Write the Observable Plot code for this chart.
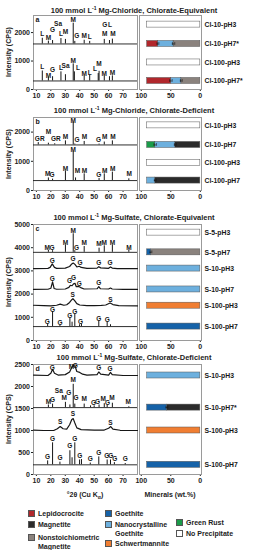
<!DOCTYPE html>
<html><head><meta charset="utf-8">
<script src="https://cdn.jsdelivr.net/npm/d3@7"></script>
<script src="https://cdn.jsdelivr.net/npm/@observablehq/plot@0.6"></script>
<style>
body{margin:0;background:#fff;}
#wrap{position:relative;width:268px;height:550px;overflow:hidden;font-family:"Liberation Sans",Arial,sans-serif;color:#222;}
.title{position:absolute;left:0;width:268px;text-align:center;font-size:7.5px;font-weight:bold;white-space:nowrap;line-height:9px;}
.title sup{font-size:5px;vertical-align:3px;line-height:0;}
.axt{position:absolute;font-size:7px;font-weight:bold;white-space:nowrap;line-height:9px;transform:translateX(-50%);}
.axt sub{font-size:5px;vertical-align:-2px;line-height:0;}
.ylab{position:absolute;font-size:7px;font-weight:bold;white-space:nowrap;line-height:9px;transform:translate(-50%,-50%) rotate(-90deg);}
.sw{position:absolute;width:7px;height:7px;border:0.6px solid #555;box-sizing:border-box;}
.lt{position:absolute;font-size:7px;font-weight:bold;line-height:9px;white-space:nowrap;}
</style></head>
<body><div id="wrap"></div>
<script>
// ---------- shared ----------
const xTicks = [10, 20, 30, 40, 50, 60, 70];
const barTicks = [100, 50, 0];
const yTitle = "Intensity (CPS)";
const minerals = ["Lepidocrocite", "Magnetite", "Nonstoichiometric Magnetite", "Goethite", "Nanocrystalline Goethite", "Schwertmannite", "Green Rust", "No Precipitate"];
const mineralColors = ["#b1272c", "#2b2b2b", "#8a827d", "#1562a8", "#6db0de", "#f07e32", "#1a9b49", "#ffffff"];
const titles = [
  "100 mmol L<sup>-1</sup> Mg-Chloride, Chlorate-Equivalent",
  "100 mmol L<sup>-1</sup> Mg-Chloride, Chlorate-Deficient",
  "100 mmol L<sup>-1</sup> Mg-Sulfate, Chlorate-Equivalent",
  "100 mmol L<sup>-1</sup> Mg-Sulfate, Chlorate-Deficient"
];

// ---------- panel a ----------
const aRows = ["Cl-10-pH3", "Cl-10-pH7*", "Cl-100-pH3", "Cl-100-pH7*"];
const aRowY = [2280, 1600, 950, 300];
const aPeaks = [
  ["Cl-10-pH7*", 14.1, 1800], ["Cl-10-pH7*", 18.3, 1700], ["Cl-10-pH7*", 21.2, 1720], ["Cl-10-pH7*", 27.0, 1790],
  ["Cl-10-pH7*", 30.1, 1760], ["Cl-10-pH7*", 35.5, 2330], ["Cl-10-pH7*", 36.6, 1690], ["Cl-10-pH7*", 43.1, 1730],
  ["Cl-10-pH7*", 46.9, 1690], ["Cl-10-pH7*", 57.0, 1760], ["Cl-10-pH7*", 60.6, 1720], ["Cl-10-pH7*", 62.6, 1770],
  ["Cl-100-pH7*", 14.1, 650], ["Cl-100-pH7*", 18.3, 420], ["Cl-100-pH7*", 21.2, 450], ["Cl-100-pH7*", 27.0, 620],
  ["Cl-100-pH7*", 30.1, 520], ["Cl-100-pH7*", 35.5, 900], ["Cl-100-pH7*", 36.3, 620], ["Cl-100-pH7*", 43.1, 470],
  ["Cl-100-pH7*", 46.9, 500], ["Cl-100-pH7*", 52.8, 560], ["Cl-100-pH7*", 53.4, 640], ["Cl-100-pH7*", 57.0, 470],
  ["Cl-100-pH7*", 60.6, 450], ["Cl-100-pH7*", 62.6, 480]
];
const aLines = [];
const aLabels = [
  [14.1, 1950, "L"], [18.3, 1830, "M"], [21.2, 2100, "G"], [25.0, 2290, "Sa"], [27.0, 1950, "L"], [30.1, 2010, "M"],
  [35.5, 2440, "M"], [38.0, 1870, "G"], [43.1, 1900, "M"], [47.0, 1850, "L"], [57.3, 2260, "G"], [61.0, 2260, "L"],
  [57.3, 1970, "M"], [63.0, 1970, "M"],
  [14.1, 790, "L"], [18.3, 470, "M"], [21.2, 680, "G"], [27.0, 760, "L"], [30.2, 840, "Sa"], [35.5, 1010, "M"],
  [38.8, 760, "L"], [43.1, 560, "M"], [46.9, 580, "L"], [50.5, 730, "L"], [53.4, 910, "M"], [57.0, 560, "M"], [62.6, 580, "M"]
];
const aBars = [
  ["Cl-10-pH3", "No Precipitate", 0, 90],
  ["Cl-10-pH7*", "Nonstoichiometric Magnetite", 0, 45.3],
  ["Cl-10-pH7*", "Nanocrystalline Goethite", 45.3, 71.7],
  ["Cl-10-pH7*", "Lepidocrocite", 71.7, 90],
  ["Cl-100-pH3", "No Precipitate", 0, 90],
  ["Cl-100-pH7*", "Nonstoichiometric Magnetite", 0, 32.2],
  ["Cl-100-pH7*", "Nanocrystalline Goethite", 32.2, 49.7],
  ["Cl-100-pH7*", "Lepidocrocite", 49.7, 90]
];
const aErr = [["Cl-10-pH7*", 45.3, 2], ["Cl-10-pH7*", 71.7, 1.5], ["Cl-100-pH7*", 32.2, 1.5], ["Cl-100-pH7*", 49.7, 2]];

// ---------- panel b ----------
const bRows = ["Cl-10-pH3", "Cl-10-pH7", "Cl-100-pH3", "Cl-100-pH7"];
const bRowY = [2230, 1560, 950, 340];
const bPeaks = [
  ["Cl-10-pH7", 11.3, 1640], ["Cl-10-pH7", 18.3, 1620], ["Cl-10-pH7", 22.7, 1600], ["Cl-10-pH7", 30.1, 1700],
  ["Cl-10-pH7", 35.5, 2330], ["Cl-10-pH7", 36.6, 1590], ["Cl-10-pH7", 43.1, 1680], ["Cl-10-pH7", 53.4, 1590],
  ["Cl-10-pH7", 57.0, 1660], ["Cl-10-pH7", 62.6, 1700],
  ["Cl-100-pH7", 18.3, 430], ["Cl-100-pH7", 21.2, 390], ["Cl-100-pH7", 30.1, 650], ["Cl-100-pH7", 35.5, 1330],
  ["Cl-100-pH7", 37.1, 430], ["Cl-100-pH7", 43.1, 570], ["Cl-100-pH7", 53.4, 410], ["Cl-100-pH7", 57.0, 570],
  ["Cl-100-pH7", 62.6, 630], ["Cl-100-pH7", 74.0, 400]
];
const bLines = [];
const bLabels = [
  [12.3, 1780, "GR"], [18.3, 1990, "M"], [23.5, 1760, "GR"], [30.1, 1850, "M"], [35.5, 2380, "M"], [38.2, 1740, "G"],
  [43.3, 1830, "M"], [53.0, 1740, "G"], [57.3, 1830, "M"], [63.0, 1850, "M"],
  [17.8, 580, "M"], [20.8, 520, "G"], [30.1, 750, "M"], [35.5, 1400, "M"], [38.5, 660, "M"], [43.3, 660, "M"],
  [53.2, 550, "G"], [57.3, 660, "M"], [62.8, 740, "M"], [74.3, 580, "M"]
];
const bBars = [
  ["Cl-10-pH3", "No Precipitate", 0, 90],
  ["Cl-10-pH7", "Magnetite", 0, 42.4],
  ["Cl-10-pH7", "Nanocrystalline Goethite", 42.4, 76.3],
  ["Cl-10-pH7", "Green Rust", 76.3, 90],
  ["Cl-100-pH3", "No Precipitate", 0, 90],
  ["Cl-100-pH7", "Magnetite", 0, 76.3],
  ["Cl-100-pH7", "Nanocrystalline Goethite", 76.3, 90]
];
const bErr = [["Cl-10-pH7", 42.4, 1.5], ["Cl-10-pH7", 76.3, 2], ["Cl-100-pH7", 76.3, 1.5]];

// ---------- panel c ----------
const cRows = ["S-5-pH3", "S-5-pH7", "S-10-pH3", "S-10-pH7", "S-100-pH3", "S-100-pH7"];
const cRowY = [4650, 3800, 3100, 2200, 1500, 600];
const cPeaks = [
  ["S-5-pH7", 18.3, 3880], ["S-5-pH7", 21.2, 3870], ["S-5-pH7", 30.1, 4100], ["S-5-pH7", 35.5, 4600],
  ["S-5-pH7", 36.6, 3870], ["S-5-pH7", 43.1, 4050], ["S-5-pH7", 53.4, 3980], ["S-5-pH7", 57.0, 4080],
  ["S-5-pH7", 62.6, 4100], ["S-5-pH7", 74.0, 3880],
  ["S-100-pH7", 17.8, 700], ["S-100-pH7", 21.2, 1250], ["S-100-pH7", 26.3, 650], ["S-100-pH7", 33.2, 960],
  ["S-100-pH7", 34.7, 790], ["S-100-pH7", 36.6, 1130], ["S-100-pH7", 39.9, 680], ["S-100-pH7", 41.2, 700],
  ["S-100-pH7", 53.2, 830], ["S-100-pH7", 59.0, 790], ["S-100-pH7", 61.3, 680]
];
const cLines = [
  ["S-10-pH3", 8, 3100], ["S-10-pH3", 18, 3110], ["S-10-pH3", 19.5, 3150], ["S-10-pH3", 21, 3300], ["S-10-pH3", 22.5, 3150],
  ["S-10-pH3", 24, 3110], ["S-10-pH3", 30, 3120], ["S-10-pH3", 33, 3190], ["S-10-pH3", 34.5, 3300], ["S-10-pH3", 35.5, 3340],
  ["S-10-pH3", 36.7, 3280], ["S-10-pH3", 38, 3170], ["S-10-pH3", 39.7, 3200], ["S-10-pH3", 41, 3150], ["S-10-pH3", 45, 3110],
  ["S-10-pH3", 52, 3120], ["S-10-pH3", 53.2, 3180], ["S-10-pH3", 54.5, 3130], ["S-10-pH3", 60, 3110], ["S-10-pH3", 61.3, 3170],
  ["S-10-pH3", 62.5, 3120], ["S-10-pH3", 66, 3100], ["S-10-pH3", 80, 3100],
  ["S-10-pH7", 8, 2200], ["S-10-pH7", 18, 2210], ["S-10-pH7", 20, 2250], ["S-10-pH7", 21.2, 2530], ["S-10-pH7", 22.3, 2240],
  ["S-10-pH7", 24, 2210], ["S-10-pH7", 30, 2220], ["S-10-pH7", 32.5, 2290], ["S-10-pH7", 33.5, 2380], ["S-10-pH7", 34.7, 2360],
  ["S-10-pH7", 35.7, 2440], ["S-10-pH7", 36.8, 2460], ["S-10-pH7", 37.6, 2320], ["S-10-pH7", 39.3, 2330], ["S-10-pH7", 40.7, 2280],
  ["S-10-pH7", 43, 2220], ["S-10-pH7", 52, 2230], ["S-10-pH7", 53.2, 2320], ["S-10-pH7", 54.4, 2230], ["S-10-pH7", 60, 2220],
  ["S-10-pH7", 61.3, 2260], ["S-10-pH7", 62.5, 2220], ["S-10-pH7", 70, 2200], ["S-10-pH7", 80, 2200],
  ["S-100-pH3", 8, 1520], ["S-100-pH3", 15, 1500], ["S-100-pH3", 20, 1490], ["S-100-pH3", 24, 1520], ["S-100-pH3", 26.5, 1570],
  ["S-100-pH3", 29, 1520], ["S-100-pH3", 31, 1540], ["S-100-pH3", 33, 1640], ["S-100-pH3", 34.5, 1760], ["S-100-pH3", 35.3, 1800],
  ["S-100-pH3", 36.5, 1720], ["S-100-pH3", 38, 1590], ["S-100-pH3", 40, 1530], ["S-100-pH3", 45, 1505], ["S-100-pH3", 50, 1505],
  ["S-100-pH3", 55, 1510], ["S-100-pH3", 58, 1530], ["S-100-pH3", 61, 1620], ["S-100-pH3", 63, 1550], ["S-100-pH3", 67, 1505],
  ["S-100-pH3", 80, 1490]
];
const cLabels = [
  [17.5, 4000, "M"], [20.8, 4000, "G"], [30.1, 4200, "M"], [35.5, 4720, "M"], [37.8, 4000, "G"], [43.1, 4200, "M"],
  [53.4, 4180, "M"], [57.0, 4200, "M"], [62.6, 4200, "M"], [74.0, 4000, "M"],
  [21.0, 3430, "G"], [35.3, 3500, "G"], [40.2, 3330, "G"], [53.2, 3330, "G"], [61.0, 3330, "G"],
  [21.0, 2650, "G"], [33.0, 2560, "G"], [35.8, 2680, "G"], [39.7, 2450, "G"], [53.2, 2480, "G"],
  [35.2, 1980, "S"], [61.2, 1770, "S"],
  [17.5, 820, "G"], [21.2, 1330, "G"], [26.3, 760, "G"], [33.2, 1060, "G"], [36.5, 1230, "G"], [40.5, 790, "G"],
  [53.2, 940, "G"], [59.0, 900, "G"]
];
const cBars = [
  ["S-5-pH3", "No Precipitate", 0, 90],
  ["S-5-pH7", "Nonstoichiometric Magnetite", 0, 83.6],
  ["S-5-pH7", "Goethite", 83.6, 90],
  ["S-10-pH3", "Nanocrystalline Goethite", 0, 90],
  ["S-10-pH7", "Nanocrystalline Goethite", 0, 90],
  ["S-100-pH3", "Schwertmannite", 0, 90],
  ["S-100-pH7", "Goethite", 0, 90]
];
const cErr = [["S-5-pH7", 83.6, 1.5]];

// ---------- panel d ----------
const dRows = ["S-10-pH3", "S-10-pH7*", "S-100-pH3", "S-100-pH7"];
const dRowY = [2250, 1520, 1000, 220];
const dPeaks = [
  ["S-10-pH7*", 18.3, 1580], ["S-10-pH7*", 21.2, 1600], ["S-10-pH7*", 30.1, 1640], ["S-10-pH7*", 33.2, 1580],
  ["S-10-pH7*", 35.5, 2050], ["S-10-pH7*", 36.6, 1600], ["S-10-pH7*", 43.1, 1600], ["S-10-pH7*", 47.5, 1560],
  ["S-10-pH7*", 50.0, 1560], ["S-10-pH7*", 53.4, 1580], ["S-10-pH7*", 57.0, 1610], ["S-10-pH7*", 59.0, 1570],
  ["S-10-pH7*", 62.6, 1620], ["S-10-pH7*", 74.0, 1540],
  ["S-100-pH7", 17.8, 310], ["S-100-pH7", 21.2, 720], ["S-100-pH7", 26.3, 280], ["S-100-pH7", 33.2, 540],
  ["S-100-pH7", 34.7, 380], ["S-100-pH7", 36.6, 720], ["S-100-pH7", 39.9, 330], ["S-100-pH7", 41.2, 340],
  ["S-100-pH7", 47.3, 260], ["S-100-pH7", 53.2, 400], ["S-100-pH7", 59.0, 330], ["S-100-pH7", 61.3, 330],
  ["S-100-pH7", 64.0, 270], ["S-100-pH7", 71.5, 250]
];
const dLines = [
  ["S-10-pH3", 8, 2260], ["S-10-pH3", 18, 2250], ["S-10-pH3", 20, 2300], ["S-10-pH3", 21.2, 2390], ["S-10-pH3", 22.5, 2300],
  ["S-10-pH3", 25, 2260], ["S-10-pH3", 30, 2270], ["S-10-pH3", 33, 2330], ["S-10-pH3", 34.5, 2430], ["S-10-pH3", 35.5, 2480],
  ["S-10-pH3", 36.8, 2460], ["S-10-pH3", 38, 2340], ["S-10-pH3", 40, 2320], ["S-10-pH3", 42, 2280], ["S-10-pH3", 45, 2260],
  ["S-10-pH3", 52, 2270], ["S-10-pH3", 53.2, 2330], ["S-10-pH3", 54.5, 2280], ["S-10-pH3", 60, 2260], ["S-10-pH3", 61.3, 2320],
  ["S-10-pH3", 62.5, 2270], ["S-10-pH3", 70, 2250], ["S-10-pH3", 80, 2250],
  ["S-100-pH3", 8, 1010], ["S-100-pH3", 15, 1000], ["S-100-pH3", 22, 1000], ["S-100-pH3", 24.5, 1040], ["S-100-pH3", 26.5, 1090],
  ["S-100-pH3", 28.5, 1040], ["S-100-pH3", 31, 1030], ["S-100-pH3", 33, 1130], ["S-100-pH3", 34.5, 1250], ["S-100-pH3", 35.5, 1270],
  ["S-100-pH3", 36.5, 1180], ["S-100-pH3", 38, 1060], ["S-100-pH3", 41, 1020], ["S-100-pH3", 50, 1010], ["S-100-pH3", 57, 1010],
  ["S-100-pH3", 60, 1050], ["S-100-pH3", 61.5, 1090], ["S-100-pH3", 63, 1030], ["S-100-pH3", 68, 1005], ["S-100-pH3", 80, 1000]
];
const dLabels = [
  [21.0, 2430, "G"], [34.3, 2440, "M"], [36.9, 2470, "G"], [53.2, 2420, "G"], [61.0, 2410, "G"],
  [18.3, 1660, "M"], [21.2, 1700, "G"], [25.5, 1900, "Sa"], [29.3, 1750, "M"], [32.5, 1860, "G"], [35.5, 2150, "M"],
  [37.5, 1740, "G"], [43.1, 1720, "M"], [49.5, 1620, "G"], [52.3, 1660, "G"], [56.3, 1720, "M"], [59.2, 1620, "G"],
  [62.4, 1740, "M"], [73.5, 1660, "M"],
  [26.5, 1190, "S"], [35.3, 1370, "S"], [61.3, 1180, "S"],
  [17.8, 400, "G"], [21.2, 810, "G"], [26.3, 370, "G"], [33.2, 640, "G"], [36.6, 810, "G"], [40.0, 430, "G"],
  [47.3, 350, "G"], [53.2, 500, "G"], [58.8, 430, "G"], [61.5, 430, "G"], [64.2, 360, "G"], [71.5, 360, "G"]
];
const dBars = [
  ["S-10-pH3", "Nanocrystalline Goethite", 0, 90],
  ["S-10-pH7*", "Magnetite", 0, 56.5],
  ["S-10-pH7*", "Goethite", 56.5, 90],
  ["S-100-pH3", "Schwertmannite", 0, 90],
  ["S-100-pH7", "Goethite", 0, 90]
];
const dErr = [["S-10-pH7*", 56.5, 1.5]];

// ---------- drawing ----------
const wrap = document.getElementById("wrap");
const FONT = '"Liberation Sans", Arial, sans-serif';
const style = {fontFamily: FONT, fontSize: "7px", fontWeight: "bold", color: "#222", background: "transparent", overflow: "visible"};
const colorOf = new Map(minerals.map((m, i) => [m, mineralColors[i]]));

function place(el, left, top) {
  el.style.position = "absolute";
  el.style.left = left + "px";
  el.style.top = top + "px";
  el.style.maxWidth = "none";
  wrap.appendChild(el);
}
function html(cls, left, top, inner) {
  const e = document.createElement("div");
  e.className = cls;
  if (left !== null) e.style.left = left + "px";
  e.style.top = top + "px";
  e.innerHTML = inner;
  wrap.appendChild(e);
  return e;
}

function panel(g, d) {
  const mt = 8, mb = 14;
  const H = g.bottom - g.top;
  const pxPer = H / (g.ydom[1] - g.ydom[0]);
  const hh = 3 / pxPer;
  const base = new Map(d.rows.map((r, i) => [r, d.rowY[i]]));
  const sharp = [...new Set(d.peaks.map(p => p[0]))];
  html("title", null, g.titleY - 4.5, g.title);
  html("ylab", 8, (g.top + g.bottom) / 2, yTitle);
  const ink = "#161616";
  const xrd = Plot.plot({
    width: 138, height: H + mt + mb, marginLeft: 33, marginRight: 1, marginTop: mt, marginBottom: mb,
    style,
    x: {domain: [8, 80], ticks: xTicks, tickSize: 2, tickPadding: 1.5, tickFormat: "d", label: null},
    y: {domain: g.ydom, ticks: g.yticks, tickSize: 2, tickPadding: 1.5, tickFormat: "d", label: null},
    marks: [
      Plot.frame({stroke: "#9a9a9a"}),
      Plot.ruleY(sharp, {y: r => base.get(r), x1: 8, x2: 80, stroke: ink, strokeWidth: 0.9}),
      Plot.ruleX(d.peaks, {x: p => p[1], y1: p => base.get(p[0]), y2: p => p[2], stroke: ink, strokeWidth: 1}),
      Plot.line(d.lines, {x: p => p[1], y: p => p[2], z: p => p[0], stroke: ink, strokeWidth: 1.2}),
      Plot.text(d.labels, {x: p => p[0], y: p => p[1], text: p => p[2], fontSize: 6.5, fill: ink}),
      Plot.text([g.letter], {frameAnchor: "top-left", text: t => t, textAnchor: "start", lineAnchor: "top", dx: 2, dy: 1.5, fontSize: 7, fill: ink})
    ]
  });
  place(xrd, 0, g.top - mt);

  const bars = Plot.plot({
    width: 134, height: H + mt + mb, marginLeft: 5, marginRight: 67, marginTop: mt, marginBottom: mb,
    style,
    color: {type: "identity"},
    x: {domain: [103, -2], ticks: barTicks, tickSize: 2, tickPadding: 1.5, tickFormat: "d", label: null},
    y: {domain: g.ydom, axis: null},
    marks: [
      Plot.frame({stroke: "#9a9a9a"}),
      Plot.rect(d.bars, {x1: b => b[2], x2: b => b[3], y1: b => base.get(b[0]) - hh, y2: b => base.get(b[0]) + hh,
        fill: b => colorOf.get(b[1]), stroke: "#555", strokeWidth: 0.5}),
      Plot.ruleY(d.err, {x1: e => e[1] - e[2], x2: e => e[1] + e[2], y: e => base.get(e[0]), stroke: "#111", strokeWidth: 0.6}),
      Plot.ruleX(d.err, {x: e => e[1] - e[2], y1: e => base.get(e[0]) - hh * 0.45, y2: e => base.get(e[0]) + hh * 0.45, stroke: "#111", strokeWidth: 0.6}),
      Plot.ruleX(d.err, {x: e => e[1] + e[2], y1: e => base.get(e[0]) - hh * 0.45, y2: e => base.get(e[0]) + hh * 0.45, stroke: "#111", strokeWidth: 0.6}),
      Plot.text(d.rows, {y: r => base.get(r), text: r => r, frameAnchor: "right", textAnchor: "start", dx: 3, fontSize: 6.8, fill: ink})
    ]
  });
  place(bars, 134, g.top - mt);
}

panel({title: titles[0], titleY: 10, top: 15, bottom: 89, ydom: [0, 2600], yticks: [0, 1000, 2000], letter: "a"},
  {rows: aRows, rowY: aRowY, peaks: aPeaks, lines: aLines, labels: aLabels, bars: aBars, err: aErr});
panel({title: titles[1], titleY: 110, top: 117, bottom: 190, ydom: [0, 2500], yticks: [0, 1000, 2000], letter: "b"},
  {rows: bRows, rowY: bRowY, peaks: bPeaks, lines: bLines, labels: bLabels, bars: bBars, err: bErr});
panel({title: titles[2], titleY: 217, top: 224, bottom: 340, ydom: [0, 5000], yticks: [0, 1000, 2000, 3000, 4000, 5000], letter: "c"},
  {rows: cRows, rowY: cRowY, peaks: cPeaks, lines: cLines, labels: cLabels, bars: cBars, err: cErr});
panel({title: titles[3], titleY: 357, top: 364, bottom: 474, ydom: [0, 2500], yticks: [0, 500, 1000, 1500, 2000, 2500], letter: "d"},
  {rows: dRows, rowY: dRowY, peaks: dPeaks, lines: dLines, labels: dLabels, bars: dBars, err: dErr});

// axis titles
html("axt", 85, 490, "°2θ (Cu K<sub>α</sub>)");
html("axt", 170, 490, "Minerals (wt.%)");

// legend
const legendPos = [
  [28, 513, "Lepidocrocite"], [28, 524, "Magnetite"], [28, 537, "Nonstoichiometric<br>Magnetite"],
  [105, 513, "Goethite"], [105, 524, "Nanocrystalline<br>Goethite"], [105, 543, "Schwertmannite"],
  [176, 522, "Green Rust"], [176, 533, "No Precipitate"]
];
legendPos.forEach(([x, y, label], i) => {
  const sw = html("sw", x, y - 3.5, "");
  sw.style.background = mineralColors[i];
  html("lt", x + 10, y - 4.5, label);
});
</script></body></html>
